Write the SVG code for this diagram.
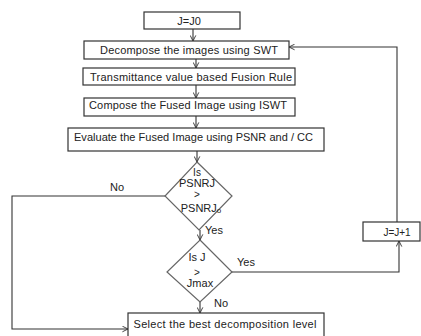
<svg xmlns="http://www.w3.org/2000/svg" width="421" height="336" viewBox="0 0 421 336">
<style>
.box{fill:#fff;stroke:#333;stroke-width:1.2}
.dia{fill:#fff;stroke:#666;stroke-width:1.2}
.t{font-family:"Liberation Sans",Arial,sans-serif;font-size:11px;fill:#222;text-anchor:middle}
.s{font-family:"Liberation Sans",Arial,sans-serif;font-size:10px;fill:#222;text-anchor:middle}
.c{fill:none;stroke:#333;stroke-width:1.1}
</style>
<defs>
<marker id="ah" viewBox="0 0 10 10" refX="9" refY="5" markerWidth="7" markerHeight="7" orient="auto" markerUnits="userSpaceOnUse">
<path d="M1,1 L9,5 L1,9" fill="none" stroke="#333" stroke-width="1.3"/>
</marker>
</defs>
<rect width="421" height="336" fill="#fff"/>
<g id="connectors">
<path class="c" d="M193,29 V41" marker-end="url(#ah)"/>
<path class="c" d="M196,59 V68" marker-end="url(#ah)"/>
<path class="c" d="M196,85 V98" marker-end="url(#ah)"/>
<path class="c" d="M196,116 V128" marker-end="url(#ah)"/>
<path class="c" d="M197,151 V162" marker-end="url(#ah)"/>
<path class="c" d="M200,230 V240" marker-end="url(#ah)"/>
<path class="c" d="M232,272 H399 V241" marker-end="url(#ah)"/>
<path class="c" d="M397,222 V47 H289" marker-end="url(#ah)"/>
<path class="c" d="M165,196 H12 V329 H128" marker-end="url(#ah)"/>
<path class="c" d="M200,302 V313" marker-end="url(#ah)"/>
<text class="t" x="117" y="191">No</text>
<text class="t" x="214" y="234" >Yes</text>
<text class="t" x="246" y="266">Yes</text>
<text class="t" x="221" y="307">No</text>
</g>
<g id="start">
<rect class="box" x="144" y="12" width="96" height="17"/>
<text class="t" x="189" y="24.5">J=J0</text>
</g>
<g id="decompose">
<rect class="box" x="84" y="41" width="205" height="18"/>
<text class="t" x="189" y="54" textLength="178">Decompose the images using SWT</text>
</g>
<g id="fusion">
<rect class="box" x="83" y="68" width="212" height="17"/>
<text class="t" x="191" y="81" textLength="202">Transmittance value based Fusion Rule</text>
</g>
<g id="compose">
<rect class="box" x="84" y="98" width="211" height="18"/>
<text class="t" x="188" y="109" textLength="198">Compose the Fused Image using ISWT</text>
</g>
<g id="evaluate">
<rect class="box" x="68" y="128" width="256" height="23"/>
<text class="t" x="193.5" y="141" textLength="239">Evaluate the Fused Image using PSNR and / CC</text>
</g>
<g id="decision1">
<polygon class="dia" points="197,162 232,196 199,230 165,196"/>
<text class="s" x="197" y="176" font-size="9">Is</text>
<text class="t" x="197" y="187">PSNRJ</text>
<text class="s" x="197" y="198">&gt;</text>
<text class="t" x="201" y="212">PSNRJ<tspan font-size="8" dy="1">o</tspan></text>
</g>
<g id="decision2">
<polygon class="dia" points="200,240 232,272 200,302 167,272"/>
<text class="t" x="197" y="261">Is J</text>
<text class="s" x="197" y="276">&gt;</text>
<text class="t" x="200" y="287">Jmax</text>
</g>
<g id="increment">
<rect class="box" x="363" y="222" width="57" height="19"/>
<text class="s" x="397" y="235.5">J=J+1</text>
</g>
<g id="select">
<rect class="box" x="128" y="313" width="196" height="25"/>
<text class="t" x="225" y="328" textLength="183">Select the best decomposition level</text>
</g>
</svg>
